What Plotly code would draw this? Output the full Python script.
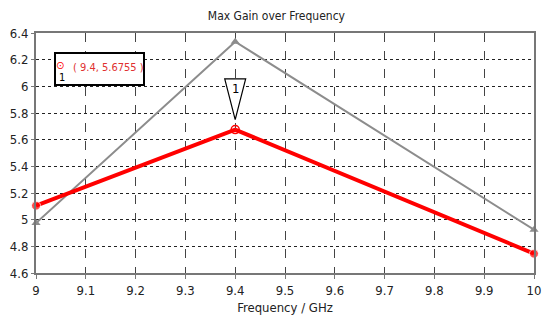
import plotly.graph_objects as go

freq = [9.0, 9.4, 10.0]
gain_red = [5.105, 5.6755, 4.745]
gain_gray = [4.975, 6.335, 4.925]
x_ticks = [9, 9.1, 9.2, 9.3, 9.4, 9.5, 9.6, 9.7, 9.8, 9.9, 10]
y_ticks = [4.6, 4.8, 5, 5.2, 5.4, 5.6, 5.8, 6, 6.2, 6.4]
marker_x, marker_y = 9.4, 5.6755

FONT = "DejaVu Sans Condensed"
L, R, T, B = 36, 8, 33, 49
PW, PH = 542 - L - R, 322 - T - B


def px(x):
    return (x - L) / PW


def py(y):
    return (322 - B - y) / PH


fig = go.Figure()
fig.add_trace(go.Scatter(x=freq, y=gain_gray, mode="lines+markers",
                         line=dict(color="#8c8c8c", width=2),
                         marker=dict(symbol="triangle-up", size=8, color="#8c8c8c"),
                         cliponaxis=False, showlegend=False))
fig.add_trace(go.Scatter(x=freq, y=gain_red, mode="lines+markers",
                         line=dict(color="#ff0000", width=4),
                         marker=dict(symbol="circle", size=[9, 1, 9], color="#ff0000"),
                         cliponaxis=False, showlegend=False))
fig.add_trace(go.Scatter(x=[marker_x], y=[marker_y], mode="markers",
                         marker=dict(symbol="circle-open-dot", size=8, color="#ff0000",
                                     line=dict(width=1.5, color="#ff0000")),
                         cliponaxis=False, showlegend=False))

# marker label triangle
fig.add_shape(type="path", xref="x", yref="y",
              path=f"M {marker_x-0.021},{marker_y+0.38} L {marker_x+0.021},{marker_y+0.38} L {marker_x},{marker_y+0.075} Z",
              line=dict(color="black", width=1.2), fillcolor="white")
fig.add_annotation(x=marker_x, y=marker_y + 0.31, xref="x", yref="y", text="1",
                   xanchor="center", yanchor="middle",
                   showarrow=False, font=dict(family=FONT, size=13, color="black"))

# info box
fig.add_shape(type="rect", xref="paper", yref="paper", layer="above",
              x0=px(55), x1=px(144), y0=py(85), y1=py(53),
              line=dict(color="black", width=2), fillcolor="white")
fig.add_annotation(x=px(60), y=py(65), xref="paper", yref="paper", text="⊙",
                   xanchor="center", yanchor="middle",
                   showarrow=False, font=dict(family=FONT, size=11, color="#ff0000"))
fig.add_annotation(x=px(62), y=py(77), xref="paper", yref="paper", text="1",
                   xanchor="center", yanchor="middle",
                   showarrow=False, font=dict(family=FONT, size=11, color="black"))
fig.add_annotation(x=px(71), y=py(67), xref="paper", yref="paper",
                   xanchor="left", yanchor="middle",
                   text=f"( {marker_x}, {marker_y} )",
                   showarrow=False, font=dict(family=FONT, size=11, color="#e03030"))

fig.update_layout(
    width=542, height=322,
    margin=dict(l=L, r=R, t=T, b=B),
    paper_bgcolor="white", plot_bgcolor="white",
    title=dict(text="Max Gain over Frequency", x=0.51, xanchor="center", y=0.95, yanchor="middle",
               font=dict(family=FONT, size=12, color="#222")),
    font=dict(family=FONT, size=12, color="#222"),
    xaxis=dict(range=[9, 10], tickvals=x_ticks, ticktext=[f"{v:g}" for v in x_ticks],
               showgrid=True, gridcolor="#444", griddash="dash", gridwidth=1,
               showline=True, linecolor="#777", linewidth=2, mirror=True,
               ticks="outside", ticklen=4, tickcolor="#777", zeroline=False,
               automargin=False, tickfont=dict(size=13),
               title=dict(text="Frequency / GHz", standoff=6, font=dict(family=FONT, size=13))),
    yaxis=dict(range=[4.6, 6.4], tickvals=y_ticks, ticktext=[f"{v:g}" for v in y_ticks],
               showgrid=True, gridcolor="#222", griddash="dot", gridwidth=1,
               showline=True, linecolor="#777", linewidth=2, mirror=True,
               ticks="outside", ticklen=3, tickcolor="#777", zeroline=False,
               automargin=False, tickfont=dict(size=13)),
)

fig.write_html("out.html", config={"displayModeBar": False},
               post_script="document.body.style.margin='0';")
